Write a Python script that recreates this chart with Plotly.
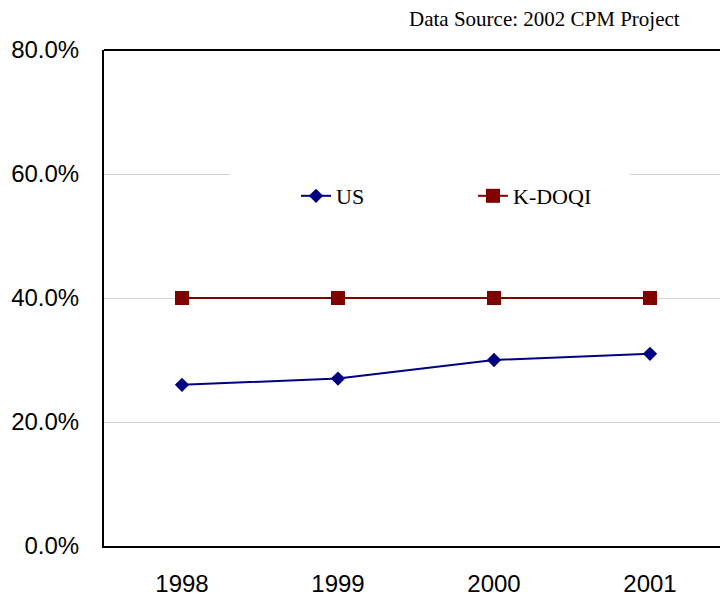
import plotly.graph_objects as go

years = ["1998", "1999", "2000", "2001"]
us_values = [0.26, 0.27, 0.30, 0.31]
kdoqi_values = [0.40, 0.40, 0.40, 0.40]
source_text = "Data Source: 2002 CPM Project"

fig = go.Figure()
fig.add_trace(go.Scatter(
    x=years, y=us_values, name="US", mode="lines+markers",
    line=dict(color="#000080", width=2),
    marker=dict(symbol="diamond", size=11, color="#000080"),
))
fig.add_trace(go.Scatter(
    x=years, y=kdoqi_values, name="K-DOQI", mode="lines+markers",
    line=dict(color="#800000", width=2),
    marker=dict(symbol="square", size=14, color="#800000"),
))

# white legend box (hides the gridline behind the legend)
fig.add_shape(type="rect", xref="paper", yref="paper",
              x0=(230 - 104) / 616, x1=(630 - 104) / 616,
              y0=(546 - 225) / 496, y1=(546 - 165) / 496,
              fillcolor="white", line=dict(width=0), layer="above")
# top frame line of the plot area
fig.add_shape(type="line", xref="paper", yref="paper",
              x0=0, x1=1.05, y0=1, y1=1,
              line=dict(color="black", width=2), layer="above")

fig.add_annotation(text=source_text, xref="paper", yref="paper",
                   x=(682 - 104) / 616, y=(546 - 19) / 496,
                   xanchor="right", yanchor="middle", showarrow=False,
                   font=dict(family="Liberation Serif", size=21, color="black"))

fig.update_layout(
    width=720, height=596,
    margin=dict(l=104, r=0, t=50, b=50, autoexpand=False),
    paper_bgcolor="white", plot_bgcolor="white",
    font=dict(family="Liberation Sans", color="black"),
    showlegend=True,
    legend=dict(orientation="h", x=(296 - 104) / 616, xanchor="left",
                y=(546 - 196) / 496, yanchor="middle",
                bgcolor="rgba(0,0,0,0)",
                font=dict(family="Liberation Serif", size=22, color="black"),
                entrywidth=132, entrywidthmode="pixels"),
    xaxis=dict(type="category", range=[-0.5, 3.5 - 8 / 156],
               showline=True, linecolor="black", linewidth=2, mirror=False,
               showgrid=False, ticks="", tickfont=dict(size=24),
               ticklabelstandoff=15, fixedrange=True),
    yaxis=dict(range=[0, 0.8], dtick=0.2, tickformat=".1%",
               showline=True, linecolor="black", linewidth=2, mirror=False,
               showgrid=True, gridcolor="#d4d4d4", gridwidth=1,
               zeroline=False, ticks="", tickfont=dict(size=24),
               ticklabelstandoff=18),
)

fig.write_html("out.html")
